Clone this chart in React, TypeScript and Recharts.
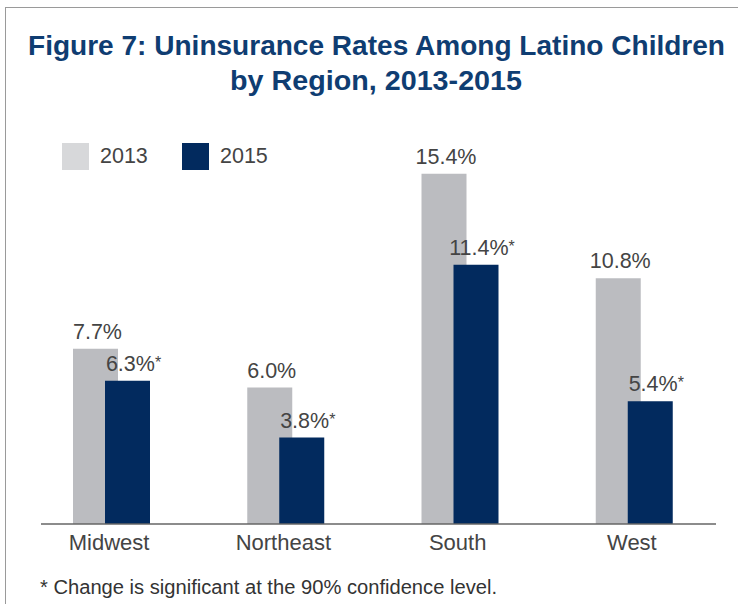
import React from 'react';
import { BarChart, Bar, XAxis, YAxis, LabelList, ReferenceLine } from 'recharts';

const categories = ['Midwest', 'Northeast', 'South', 'West'];
const rates2013 = [7.7, 6.0, 15.4, 10.8];
const rates2015 = [6.3, 3.8, 11.4, 5.4];
const significant2013 = [false, false, false, false];
const significant2015 = [true, true, true, true];
const seriesNames = ['2013', '2015'];
const barColors = ['#bbbcc0', '#022a5e'];
const legendColors = ['#d7d8da', '#022a5e'];
const titleLines = ['Figure 7: Uninsurance Rates Among Latino Children', 'by Region, 2013-2015'];
const footnote = '* Change is significant at the 90% confidence level.';
const yMax = 16;

const data = categories.map((c, i) => ({ region: c, y2013: rates2013[i], y2015: rates2015[i] }));

const FONT = '"Liberation Sans", Arial, Helvetica, sans-serif';
const TEXT = '#444444';

const makeLabel = (sig: boolean[]) => (props: any) => {
  const { x, y, width, value, index } = props;
  const starred = sig[index];
  const cx = Number(x) + Number(width) / 2 + 2 + (starred ? 4 : 0);
  return (
    <text x={cx} y={Number(y) - 10} textAnchor="middle" fontFamily={FONT} fontSize={21.5} fill={TEXT}>
      {Number(value).toFixed(1) + '%'}
      {starred ? <tspan fontSize={16} dy={-3}>*</tspan> : null}
    </text>
  );
};

const CategoryTick = (props: any) => {
  const { x, y, payload } = props;
  return (
    <text x={x - 2} y={y} dy={26} textAnchor="middle" fontFamily={FONT} fontSize={22} fill={TEXT}>
      {payload.value}
    </text>
  );
};

const AxisBase = (props: any) => {
  const { x1, y1, x2 } = props;
  return <line x1={x1 + 17} y1={y1} x2={x2 - 5} y2={y1} stroke="#666666" strokeWidth={1.5} />;
};

export default function App() {
  return (
    <div style={{ position: 'absolute', left: 0, top: 0, width: 738, height: 607, background: '#fff', overflow: 'hidden', fontFamily: FONT }}>
      <div style={{ position: 'absolute', left: 5, top: 7, width: 800, height: 596, borderTop: '1.5px solid #9a9a9a', borderLeft: '1.5px solid #9a9a9a' }} />
      <div style={{ position: 'absolute', left: 0, top: 0 }}>
        <BarChart width={738} height={607} data={data} margin={{ top: 160, right: 17, bottom: 53, left: 24 }} barSize={45} barGap={-13}>
          <XAxis dataKey="region" axisLine={false} tickLine={false} tickSize={0} tickMargin={0} height={30} tick={<CategoryTick />} interval={0} />
          <YAxis hide domain={[0, yMax]} />
          <ReferenceLine y={0} shape={<AxisBase />} />
          <Bar dataKey="y2013" name={seriesNames[0]} fill={barColors[0]} isAnimationActive={false}>
            <LabelList dataKey="y2013" content={makeLabel(significant2013)} />
          </Bar>
          <Bar dataKey="y2015" name={seriesNames[1]} fill={barColors[1]} isAnimationActive={false}>
            <LabelList dataKey="y2015" content={makeLabel(significant2015)} />
          </Bar>
        </BarChart>
      </div>
      <div style={{ position: 'absolute', left: 62, top: 143, display: 'flex', alignItems: 'center' }}>
        {seriesNames.map((n, i) => (
          <div key={n} style={{ display: 'flex', alignItems: 'center', width: 120 }}>
            <div style={{ width: 27, height: 27, background: legendColors[i] }} />
            <span style={{ marginLeft: 11, fontSize: 21.5, color: TEXT, lineHeight: '27px' }}>{n}</span>
          </div>
        ))}
      </div>
      <svg width={738} height={607} style={{ position: 'absolute', left: 0, top: 0, pointerEvents: 'none' }}>
        <text x={376.5} y={55} textAnchor="middle" fontFamily={FONT} fontWeight="bold" fontSize={28.5} fill="#0f3d72" textLength={697} lengthAdjust="spacingAndGlyphs">{titleLines[0]}</text>
        <text x={376} y={90} textAnchor="middle" fontFamily={FONT} fontWeight="bold" fontSize={28.5} fill="#0f3d72" textLength={292} lengthAdjust="spacingAndGlyphs">{titleLines[1]}</text>
        <text x={40} y={594} fontFamily={FONT} fontSize={20} fill="#333333" textLength={457} lengthAdjust="spacingAndGlyphs">{footnote}</text>
      </svg>
    </div>
  );
}
